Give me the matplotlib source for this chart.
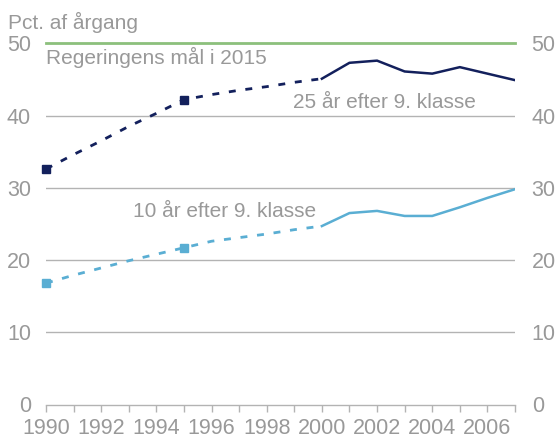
import matplotlib
matplotlib.use("Agg")
import matplotlib.pyplot as plt

years = list(range(1990, 2008))
# 25 years after 9th grade
dark_est_years = [1990, 1991, 1992, 1993, 1994, 1995, 1996, 1997, 1998, 1999, 2000]
dark_est = [32.6, 34.6, 36.5, 38.5, 40.3, 42.2, 42.9, 43.5, 44.0, 44.6, 45.1]
dark_obs_years = [2000, 2001, 2002, 2003, 2004, 2005, 2006, 2007]
dark_obs = [45.1, 47.3, 47.6, 46.1, 45.8, 46.7, 45.8, 44.9]
# 10 years after 9th grade
light_est_years = [1990, 1991, 1992, 1993, 1994, 1995, 1996, 1997, 1998, 1999, 2000]
light_est = [16.8, 17.9, 18.9, 19.9, 20.8, 21.7, 22.6, 23.1, 23.6, 24.2, 24.7]
light_obs_years = [2000, 2001, 2002, 2003, 2004, 2005, 2006, 2007]
light_obs = [24.7, 26.5, 26.8, 26.1, 26.1, 27.3, 28.6, 29.8]
marker_years = [1990, 1995]
dark_markers = [32.6, 42.2]
light_markers = [16.8, 21.7]
goal = 50
yticks = [0, 10, 20, 30, 40, 50]
xtick_labels = list(range(1990, 2007, 2))

DARK = "#13205c"
LIGHT = "#5aaed3"
GREEN = "#8cc07c"
GRID = "#b3b3b3"
TXT = "#999999"
FONT = "Liberation Sans"

plt.rcParams["font.family"] = [FONT, "DejaVu Sans"]

fig = plt.figure(figsize=(5.56, 4.45), dpi=100)
ax = fig.add_axes([46/556, 1-404.5/445, (515-46)/556, (404.5-43.3)/445])
ax.set_xlim(1990, 2007)
ax.set_ylim(0, 50)

for y in yticks[1:-1]:
    ax.axhline(y, color=GRID, lw=1.0, zorder=1)
ax.axhline(goal, color=GREEN, lw=2.0, zorder=2, clip_on=False)

dash = (0, (2.5, 3.5))
ax.plot(dark_est_years, dark_est, color=DARK, lw=2.0, linestyle=dash, zorder=3)
ax.plot(dark_obs_years, dark_obs, color=DARK, lw=1.8, zorder=3)
ax.plot(marker_years, dark_markers, linestyle="none", marker="s", ms=5.5, color=DARK, zorder=4, clip_on=False)
ax.plot(light_est_years, light_est, color=LIGHT, lw=2.0, linestyle=dash, zorder=3)
ax.plot(light_obs_years, light_obs, color=LIGHT, lw=1.8, zorder=3)
ax.plot(marker_years, light_markers, linestyle="none", marker="s", ms=5.5, color=LIGHT, zorder=4, clip_on=False)

for s in ["left", "right", "top"]:
    ax.spines[s].set_visible(False)
ax.spines["bottom"].set_color(GRID)
ax.spines["bottom"].set_linewidth(1.0)

FS = 15.5
ax.set_xticks(years)
ax.set_xticklabels([str(y) if y in xtick_labels else "" for y in years])
ax.tick_params(axis="x", colors=GRID, length=5, width=1.0, labelcolor=TXT, labelsize=FS, pad=4.5)
ax.set_yticks(yticks)
ax.tick_params(axis="y", length=0, labelcolor=TXT, labelsize=FS, pad=10.8)

ax2 = ax.twinx()
ax2.set_ylim(0, 50)
ax2.set_yticks(yticks)
ax2.tick_params(axis="y", length=0, labelcolor=TXT, labelsize=FS, pad=12.0)
for s in ["left", "right", "top", "bottom"]:
    ax2.spines[s].set_visible(False)

TS = 15
fig.text(8/556, 1-29/445, "Pct. af årgang", color=TXT, fontsize=TS, ha="left", va="baseline")
ax.text(1990, 47.1, "Regeringens mål i 2015", color=TXT, fontsize=TS, ha="left", va="baseline")
ax.text(1998.95, 41.1, "25 år efter 9. klasse", color=TXT, fontsize=TS, ha="left", va="baseline")
ax.text(1993.15, 25.9, "10 år efter 9. klasse", color=TXT, fontsize=TS, ha="left", va="baseline")

fig.savefig("out.png", dpi=100)
